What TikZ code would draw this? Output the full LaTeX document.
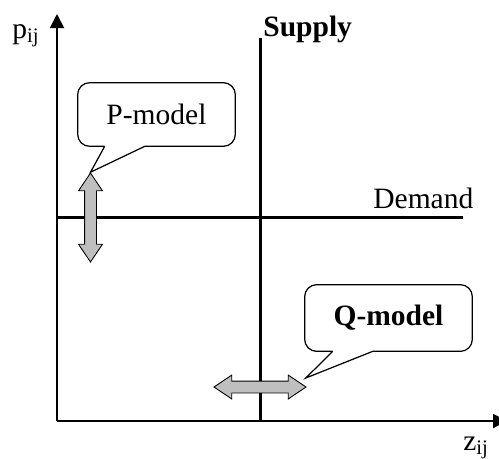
\documentclass[tikz,border=0pt]{standalone}
\usepackage{fontspec}
\setmainfont{Liberation Serif}
\usetikzlibrary{arrows.meta,calc,shapes.arrows}

\begin{document}
\begin{tikzpicture}[
    x=0.02cm, y=-0.02cm,
    font=\fontsize{16.8}{20}\selectfont,
    axis/.style={line width=1.1pt, -{Triangle[length=0.28cm,width=0.28cm]}},
    market/.style={line width=1.7pt},
    axislabel/.style={inner sep=0pt, anchor=base west},
    modelbox/.style={inner sep=0pt, align=center},
    bubble/.style={line width=0.7pt, line join=miter},
    shiftarrow/.style={double arrow, draw, line width=0.5pt, fill=gray!50, inner sep=0.11cm, double arrow head extend=0.12cm, double arrow tip angle=68}
  ]
    \clip (0,0) rectangle (499,458);
    % axes
    \coordinate (origin) at (57,421);
    \coordinate (ytop) at (57,14);
    \coordinate (xend) at (507,421);
    \draw[axis] (origin) -- (ytop);
    \draw[axis] (origin) -- (xend);
    \node[axislabel] (plabel) at (12,38) {p\textsubscript{ij}};
    \node[axislabel] (zlabel) at (463,450) {z\textsubscript{ij}};
    % supply and demand lines
    \coordinate (stop) at (260,38);
    \coordinate (sbot) at (260,421);
    \coordinate (dleft) at (57,217);
    \coordinate (dright) at (463,217);
    \draw[market] (stop) -- (sbot);
    \draw[market] (dleft) -- (dright);
    \node[axislabel] (supply) at (263,36) {\textbf{Supply}};
    \node[axislabel] (demand) at (373,208) {Demand};
    % shifting arrows
    \node[shiftarrow, shape border rotate=90, minimum height=1.78cm] (parrow) at (90.5,217.5) {};
    \node[shiftarrow, minimum height=1.84cm] (qarrow) at (260,387) {};
    % callouts
    \node[modelbox, minimum width=3.14cm, minimum height=1.26cm] (pbox) at (156.5,114.5) {P-model};
    \node[modelbox, minimum width=3.34cm, minimum height=1.32cm] (qbox) at (388.5,318) {\textbf{Q-model}};
    \coordinate (qtip) at ($(qarrow.tip 1)+(-1,-9)$);
    \draw[bubble] ($(pbox.south west)+(27,0)$) -- (parrow.tip 1) -- ($(pbox.south west)+(67,0)$)
      [rounded corners=0.24cm] -- (pbox.south east) -- (pbox.north east) -- (pbox.north west) -- (pbox.south west) -- ($(pbox.south west)+(27,0)$);
    \draw[bubble] ($(qbox.south west)+(28,0)$) -- (qtip) -- ($(qbox.south west)+(68,0)$)
      [rounded corners=0.24cm] -- (qbox.south east) -- (qbox.north east) -- (qbox.north west) -- (qbox.south west) -- ($(qbox.south west)+(28,0)$);
\end{tikzpicture}
\end{document}
